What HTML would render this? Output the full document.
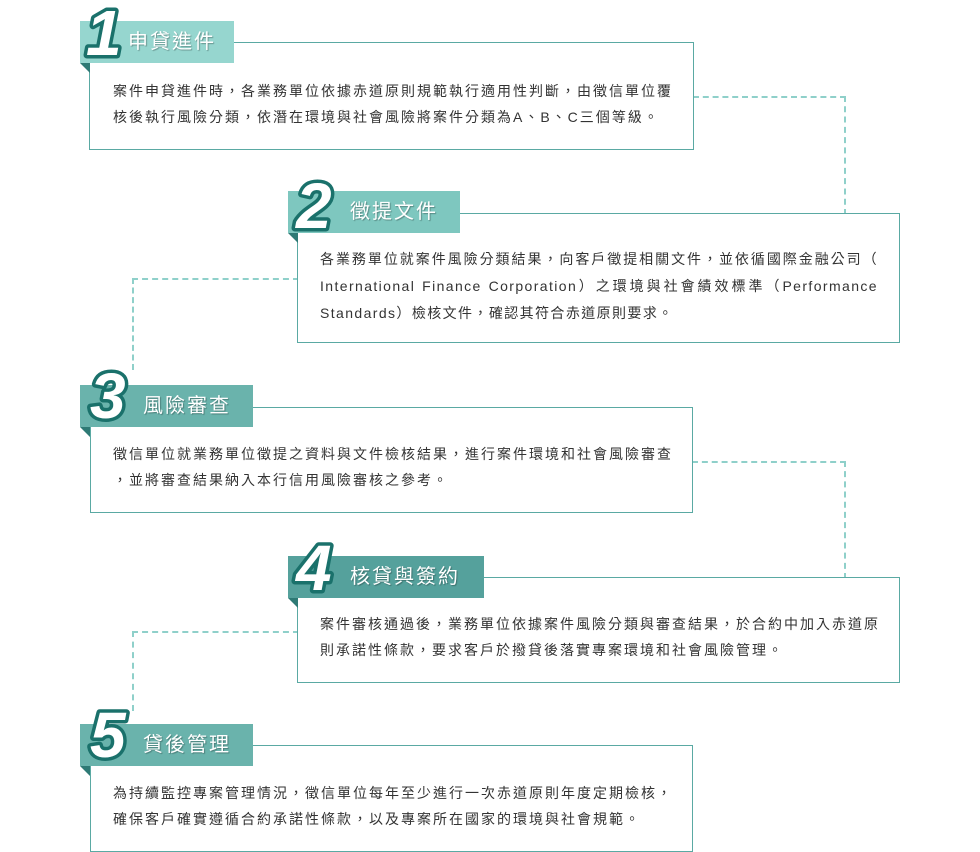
<!DOCTYPE html>
<html><head><meta charset="utf-8"><style>
body{margin:0;background:#fff;width:980px;height:852px;position:relative;overflow:hidden;font-family:"Liberation Sans","Noto Sans CJK TC",sans-serif}
.box{position:absolute;border:1px solid #5aa9a3;box-sizing:border-box;background:#fff}
.txt{position:absolute;font-size:14px;color:#333;line-height:26px;letter-spacing:2px;white-space:nowrap}
.txt span{display:block}
.j{text-align:justify;text-align-last:justify;letter-spacing:1.4px}
.hd{position:absolute;height:42px;color:#fff;font-size:20px;font-weight:normal;line-height:42px;box-sizing:border-box;letter-spacing:2px;text-shadow:1px 1px 1px rgba(0,0,0,.3)}
.fold{position:absolute;width:0;height:0;border-top:10px solid #2e7a75;border-left:10px solid transparent}
svg.num{position:absolute;overflow:visible}
.dash{position:absolute;border-color:#8fd0ca;border-style:dashed;border-width:0}
</style></head><body>

<div class="dash" style="left:693px;top:96px;width:151px;height:117px;border-top-width:2px;border-right-width:2px"></div>
<div class="dash" style="left:132px;top:278px;width:165px;height:90px;border-top-width:2px;border-left-width:2px"></div>
<div class="dash" style="left:692px;top:461px;width:152px;height:116px;border-top-width:2px;border-right-width:2px"></div>
<div class="dash" style="left:132px;top:631px;width:165px;height:78px;border-top-width:2px;border-left-width:2px"></div>

<div class="box" style="left:89px;top:42px;width:605px;height:108px"></div>
<div class="txt" style="left:113px;top:78px;width:558px"><span>案件申貸進件時，各業務單位依據赤道原則規範執行適用性判斷，由徵信單位覆</span><span>核後執行風險分類，依潛在環境與社會風險將案件分類為A、B、C三個等級。</span></div>
<div class="hd" style="left:80px;top:21px;width:154px;background:#96d6cf;padding-left:48px">申貸進件</div>
<div class="fold" style="left:80px;top:63px"></div>

<div class="box" style="left:297px;top:213px;width:603px;height:130px"></div>
<div class="txt" style="left:320px;top:246px;width:558px;line-height:27px"><span class="j">各業務單位就案件風險分類結果，向客戶徵提相關文件，並依循國際金融公司（</span><span class="j">International Finance Corporation）之環境與社會績效標準（Performance</span><span style="letter-spacing:1.4px">Standards）檢核文件，確認其符合赤道原則要求。</span></div>
<div class="hd" style="left:288px;top:191px;width:172px;background:#7ec7bf;padding-left:62px">徵提文件</div>
<div class="fold" style="left:288px;top:233px"></div>

<div class="box" style="left:90px;top:407px;width:603px;height:106px"></div>
<div class="txt" style="left:113px;top:441px;width:558px"><span>徵信單位就業務單位徵提之資料與文件檢核結果，進行案件環境和社會風險審查</span><span>，並將審查結果納入本行信用風險審核之參考。</span></div>
<div class="hd" style="left:80px;top:385px;width:173px;background:#6ab3ac;padding-left:63px">風險審查</div>
<div class="fold" style="left:80px;top:427px"></div>

<div class="box" style="left:297px;top:577px;width:603px;height:106px"></div>
<div class="txt" style="left:320px;top:611px;width:558px"><span>案件審核通過後，業務單位依據案件風險分類與審查結果，於合約中加入赤道原</span><span>則承諾性條款，要求客戶於撥貸後落實專案環境和社會風險管理。</span></div>
<div class="hd" style="left:288px;top:556px;width:196px;background:#55a19c;padding-left:62px">核貸與簽約</div>
<div class="fold" style="left:288px;top:598px"></div>

<div class="box" style="left:90px;top:745px;width:603px;height:107px"></div>
<div class="txt" style="left:113px;top:780px;width:558px"><span>為持續監控專案管理情況，徵信單位每年至少進行一次赤道原則年度定期檢核，</span><span>確保客戶確實遵循合約承諾性條款，以及專案所在國家的環境與社會規範。</span></div>
<div class="hd" style="left:80px;top:724px;width:173px;background:#6ab3ac;padding-left:63px">貸後管理</div>
<div class="fold" style="left:80px;top:766px"></div>

<svg class="num" style="left:0;top:0" width="980" height="852">
<g font-family="Liberation Sans,sans-serif" font-weight="bold" font-style="italic" font-size="64" fill="#fff" stroke="#1a716b" stroke-width="7" paint-order="stroke" stroke-linejoin="round">
<text x="86" y="55">1</text>
<text x="296" y="228">2</text>
<text x="90" y="418">3</text>
<text x="296" y="590">4</text>
<text x="90" y="757">5</text>
</g>
</svg>
</body></html>
